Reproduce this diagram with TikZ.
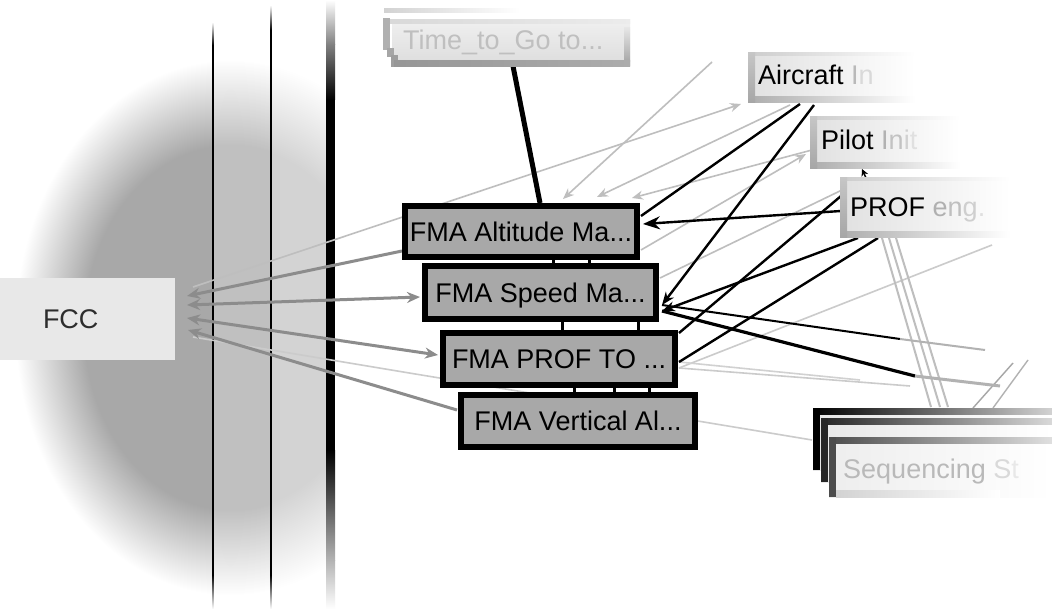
\documentclass[tikz,border=0pt]{standalone}
\usepackage{fontspec}
\setmainfont{Liberation Sans}
\usetikzlibrary{arrows.meta}
\definecolor{blobc}{RGB}{168,168,168}
\definecolor{fmafill}{RGB}{168,168,168}
\definecolor{fccfill}{RGB}{232,232,232}
\definecolor{fcctext}{RGB}{45,45,45}
\definecolor{gline}{RGB}{140,140,140}
\definecolor{lline}{RGB}{190,190,190}
\pgfdeclareradialshading{blobshade}{\pgfpoint{0bp}{0bp}}{color(0bp)=(blobc); color(17bp)=(blobc); color(25bp)=(white); color(50bp)=(white)}
\pgfdeclarelayer{back}
\pgfdeclarelayer{edges}
\pgfsetlayers{back,edges,main}
\newcommand{\fadebox}[4]{%
  \shade[left color=gray!24, right color=white] (#1,#2) rectangle (#4,#3);
  \shade[left color=gray!40, right color=white] (#1,#2) rectangle (#4,#2+3);
  \shade[left color=gray!65, right color=white] (#1,#3-6) rectangle (#4,#3);
  \shade[top color=gray!45, bottom color=gray!70] (#1,#2) rectangle (#1+7,#3);
}
\newcommand{\stackbox}[6]{% left, top, bottom, border colour, fill colour
  \shade[left color=#5, right color=white] (#1,#2) rectangle (1052,#3);
  \shade[left color=#4, right color=#6] (#1,#2) rectangle (1052,#2+6);
  \fill[#4] (#1,#2) rectangle (#1+7,#3);
}
\begin{document}
\begin{tikzpicture}[x=1pt,y=-1pt,
  bigtext/.style={font=\fontsize{27}{30}\selectfont},
  fma/.style={bigtext, draw=black, line width=6.5pt, fill=fmafill, inner sep=0pt,
    text=black, text height=19.5pt, text depth=0pt},
  lbl/.style={bigtext, anchor=base west, inner sep=0pt},
  blk/.style={draw=black, line width=2.4pt},
  gry/.style={draw=gline, line width=3pt},
  lgt/.style={draw=lline, line width=1.6pt},
  gtip/.style={-{Stealth[length=13pt,width=11pt]}},
  gtips/.style={-{Stealth[length=11pt,width=9pt]}},
  gboth/.style={{Stealth[length=13pt,width=11pt]}-{Stealth[length=13pt,width=11pt]}},
  btip/.style={-{Stealth[length=13pt,width=10pt]}}]
\useasboundingbox (0,0) rectangle (1052,609);

% ---------------- background: shadow blob, bands, vertical lines
\begin{pgfonlayer}{back}
  \fill[white] (0,0) rectangle (1052,609);
  \begin{scope}
    \clip (0,0) rectangle (330,609);
    \shade[shading=blobshade] (15,60) rectangle (445,595);
  \end{scope}
  \fill[white, opacity=0.28] (213,0) rectangle (271,609);
  \fill[white, opacity=0.5] (271,0) rectangle (330,609);
  % thin line 1
  \shade[top color=white, bottom color=black] (212.2,22) rectangle (213.8,45);
  \fill[black] (212.2,45) rectangle (213.8,575);
  \shade[top color=black, bottom color=white] (212.2,575) rectangle (213.8,609);
  % thin line 2
  \shade[top color=white, bottom color=black] (270.2,5) rectangle (271.8,30);
  \fill[black] (270.2,30) rectangle (271.8,575);
  \shade[top color=black, bottom color=white] (270.2,575) rectangle (271.8,609);
  % thick bar
  \shade[top color=white, bottom color=gray] (326,0) rectangle (335,45);
  \shade[top color=gray, bottom color=black] (326,45) rectangle (335,100);
  \fill[black] (326,100) rectangle (335,450);
  \shade[top color=black, bottom color=gray!60] (326,450) rectangle (335,560);
  \shade[top color=gray!60, bottom color=white] (326,560) rectangle (335,609);
\end{pgfonlayer}

% ---------------- FCC
\node[bigtext, fill=fccfill, minimum width=175pt, minimum height=82pt, inner sep=0pt,
      text width=89pt, align=left, text=fcctext] (fcc) at (87.5,319) {FCC};

% ---------------- Time_to_Go box (faded, stacked)
\shade[left color=gray!35, right color=white] (384,9) rectangle (520,13);
\shade[top color=gray!12, bottom color=gray!26] (392,20) rectangle (630,62);
\shade[left color=gray!30, right color=gray!15] (390,20) rectangle (630,24);
\fill[gray!62] (383,18) rectangle (390,50);
\fill[gray!70] (387,48) rectangle (394,57);
\fill[gray!76] (391,55) rectangle (398,67);
\shade[top color=gray!20, bottom color=gray!75] (624,28) rectangle (630,66);
\shade[left color=gray!82, right color=gray!65] (394,61) rectangle (630,67);
\node[lbl, text=gray!50] (ttg) at (403,50) {Time\_to\_Go to...};

% ---------------- faded nodes on the right
\fadebox{748}{53}{103}{915}
\node[lbl] (air) at (758,85) {Aircraft\ \textcolor{gray!55}{I}\textcolor{gray!30}{n}};
\fadebox{810}{117}{169}{960}
\node[lbl] (pil) at (821,150) {Pilot\ \textcolor{gray!60}{I}\textcolor{gray!48}{n}\textcolor{gray!36}{i}\textcolor{gray!24}{t}};
\fadebox{840}{178}{238}{1010}
\node[lbl] (prf) at (850,217) {PROF\ \textcolor{gray!62}{e}\textcolor{gray!50}{n}\textcolor{gray!38}{g}\textcolor{gray!25}{.}};

% ---------------- Sequencing (stacked)
\stackbox{813}{408}{470}{black}{gray!20}{gray!35}
\stackbox{821}{418}{482}{black!85}{gray!18}{gray!30}
\stackbox{829}{437}{497}{black!70}{gray!14}{gray!25}
\shade[left color=gray!35, right color=white] (836,490) rectangle (1000,497);
\node[lbl, text=gray!55] (seq) at (843,478) {Sequencing\ \textcolor{gray!30}{S}\textcolor{gray!18}{t}};

% ---------------- FMA nodes
\node[fma, minimum width=232pt, minimum height=51pt] (alt) at (521,231.5) {FMA Altitude Ma...};
\node[fma, minimum width=231pt, minimum height=53pt] (spd) at (540.5,292.5) {FMA Speed Ma...};
\node[fma, minimum width=232pt, minimum height=52pt] (pto) at (559,359) {FMA PROF TO ...};
\node[fma, minimum width=234pt, minimum height=52pt] (ver) at (578,421) {FMA Vertical Al...};

% ---------------- connector end points
\coordinate (fa) at (187,296);
\coordinate (fb) at (187,305);
\coordinate (fc) at (187,318);
\coordinate (fd) at (188,330);
\coordinate (fe) at (193,287);
\coordinate (ff) at (193,337);
\coordinate (alt-w) at (402,251);
\coordinate (spd-w) at (420,297);
\coordinate (pto-w) at (438,355);
\coordinate (ver-w) at (457,410);
\coordinate (alt-n0) at (540,203);
\coordinate (alt-n1) at (563,199);
\coordinate (alt-n2) at (597,197);
\coordinate (alt-n3) at (632,198);
\coordinate (alt-e1) at (641,216);
\coordinate (alt-e2) at (643,224);
\coordinate (alt-e3) at (641,250);
\coordinate (spd-e1) at (662,305);
\coordinate (spd-e2) at (662,311);
\coordinate (spd-e3) at (660,278);
\coordinate (pto-e1) at (679,333);
\coordinate (pto-e2) at (679,362);
\coordinate (pto-e3) at (679,368);
\coordinate (ttg-s) at (513,66);
\coordinate (air-sw) at (741,104);
\coordinate (air-s1) at (790,105);
\coordinate (air-s2) at (800,104);
\coordinate (air-s3) at (814,105);
\coordinate (pil-w) at (806,154);
\coordinate (pil-w2) at (812,150);
\coordinate (pil-s) at (862,169);
\coordinate (prf-n) at (866,178);
\coordinate (prf-w1) at (841,196);
\coordinate (prf-w2) at (841,211);
\coordinate (prf-w3) at (842,190);
\coordinate (prf-s1) at (858,238);
\coordinate (prf-s2) at (878,238);
\coordinate (prf-s3) at (882,238);
\coordinate (prf-s4) at (889,238);
\coordinate (prf-s5) at (896,238);
\coordinate (seq-w) at (812,440);
\coordinate (seq-n1) at (931,407);
\coordinate (seq-n2) at (940,407);
\coordinate (seq-n3) at (948,407);
\coordinate (seq-n4) at (973,408);
\coordinate (seq-n5) at (993,408);
\coordinate (o1) at (712,62);
\coordinate (o2a) at (900,339);
\coordinate (o2) at (985,350);
\coordinate (o3a) at (915,376);
\coordinate (o3) at (1000,386);
\coordinate (o4) at (992,245);
\coordinate (o5) at (910,386);
\coordinate (o5b) at (860,380);
\coordinate (o6) at (1013,363);
\coordinate (o7) at (1028,360);

% ---------------- connectors
\begin{pgfonlayer}{edges}
  % light grey
  \draw[lgt, gtips] (fe) -- (air-sw);
  \draw[lgt, draw=lline!80] (ff) -- (seq-w);
  \draw[lgt, gtips] (o1) -- (alt-n1);
  \draw[lgt, gtips] (air-s1) -- (alt-n2);
  \draw[lgt, gtips] (pil-w2) -- (alt-n3);
  \draw[lgt, gtips] (alt-e3) -- (pil-w);
  \draw[lgt] (spd-e3) -- (prf-w3);
  \draw[lgt, draw=lline!80] (pto-e3) -- (o4);
  \draw[lgt, draw=lline!80] (pto-e3) -- (o5);
  \draw[lgt, draw=lline!70] (pto-e2) -- (o5b);
  \draw[lgt, line width=2pt] (prf-s3) -- (seq-n1);
  \draw[lgt, line width=2pt] (prf-s4) -- (seq-n2);
  \draw[lgt, line width=2pt] (prf-s5) -- (seq-n3);
  \draw[draw=gray!70, line width=1.4pt] (seq-n4) -- (o6);
  \draw[draw=gray!60, line width=1.4pt] (seq-n5) -- (o7);
  % medium grey, to and from FCC
  \draw[gry, gtip] (alt-w) -- (fa);
  \draw[gry, gboth] (fb) -- (spd-w);
  \draw[gry, gboth] (fc) -- (pto-w);
  \draw[gry, gtip] (ver-w) -- (fd);
  % black
  \draw[black, line width=5pt] (ttg-s) -- (alt-n0);
  \draw[blk] (air-s2) -- (alt-e1);
  \draw[blk, btip] (air-s3) -- (spd-e1);
  \draw[blk, -{Stealth[length=17pt,width=13pt]}] (prf-w2) -- (alt-e2);
  \draw[blk] (prf-w1) -- (pto-e1);
  \draw[blk, btip] (prf-s1) -- (spd-e2);
  \draw[blk] (prf-s2) -- (pto-e2);
  \draw[blk, line width=2pt] (spd-e1) -- (o2a);
  \draw[draw=gray!60, line width=2pt] (o2a) -- (o2);
  \draw[blk, line width=3.2pt] (spd-e2) -- (o3a);
  \draw[draw=gray!60, line width=3pt] (o3a) -- (o3);
  \draw[blk, line width=1.5pt, -{Stealth[length=7pt,width=7pt]}] (prf-n) -- (pil-s);
  % short links between the stacked FMA boxes
  \draw[black, line width=3pt] (alt.south) ++(32,-4) -- ++(0,12);
  \draw[black, line width=3pt] (alt.south) ++(68,-4) -- ++(0,12);
  \draw[black, line width=3pt] (spd.south) ++(22,-4) -- ++(0,14);
  \draw[black, line width=3pt] (spd.south) ++(98,-4) -- ++(0,14);
  \draw[black, line width=3pt] (pto.south) ++(15,-4) -- ++(0,12);
  \draw[black, line width=3pt] (pto.south) ++(55,-4) -- ++(0,12);
  \draw[black, line width=3pt] (pto.south) ++(90,-4) -- ++(0,12);
\end{pgfonlayer}
\end{tikzpicture}
\end{document}
